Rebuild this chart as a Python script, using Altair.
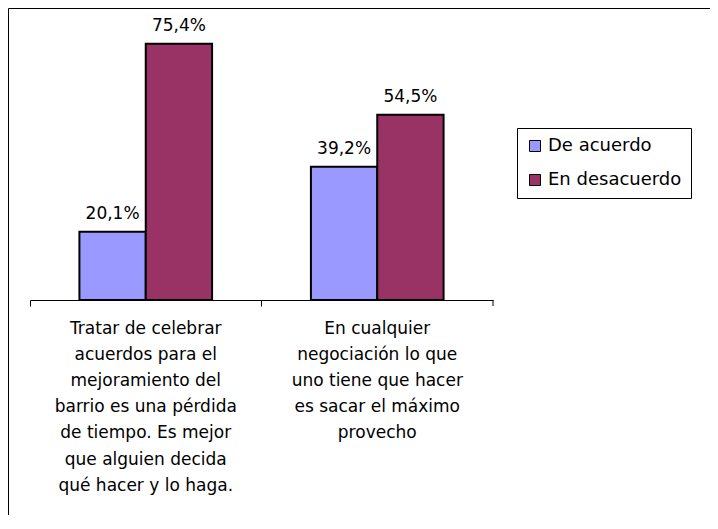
import altair as alt
import pandas as pd

# --- data ---
category_lines = [
    ["Tratar de celebrar", "acuerdos para el", "mejoramiento del",
     "barrio es una pérdida", "de tiempo. Es mejor", "que alguien decida",
     "qué hacer y lo haga."],
    ["En cualquier", "negociación lo que", "uno tiene que hacer",
     "es sacar el máximo", "provecho"],
]
categories = ["\n".join(l) for l in category_lines]
series = ["De acuerdo", "En desacuerdo"]
de_acuerdo = [20.1, 39.2]
en_desacuerdo = [75.4, 54.5]
colors = ["#9999FF", "#993366"]

rows = []
for i, c in enumerate(categories):
    rows.append({"cat": c, "serie": series[0], "val": de_acuerdo[i]})
    rows.append({"cat": c, "serie": series[1], "val": en_desacuerdo[i]})
df = pd.DataFrame(rows)
df["label"] = df["val"].map(lambda v: f"{v:.1f}".replace(".", ",") + "%")

W, H = 463, 272
FONT = "DejaVu Sans"

x = alt.X("cat:N", sort=categories, title=None,
          scale=alt.Scale(paddingInner=0, paddingOuter=0),
          axis=alt.Axis(labelExpr="split(datum.label, '\\n')", labelAngle=0,
                        labelAlign="center", labelBaseline="top",
                        labelLineHeight=26.2, labelFontSize=17, labelFont=FONT,
                        labelColor="black", labelPadding=14, labelLimit=400,
                        bandPosition=0, tickSize=6, tickColor="black",
                        domainColor="black", domainWidth=1, tickWidth=1,
                        grid=False))
xoff = alt.XOffset("serie:N", sort=series,
                   scale=alt.Scale(paddingInner=0, paddingOuter=0.745))
y = alt.Y("val:Q", scale=alt.Scale(domain=[0, 80]), axis=None)

bars = alt.Chart(df).mark_bar(stroke="black", strokeWidth=2).encode(
    x=x, xOffset=xoff, y=y,
    color=alt.Color("serie:N", sort=series,
                    scale=alt.Scale(domain=series, range=colors),
                    legend=alt.Legend(title=None, orient="none", legendX=487,
                                      legendY=100, strokeColor="black",
                                      fillColor="white", padding=9,
                                      symbolType="square", symbolSize=121,
                                      symbolStrokeColor="black",
                                      symbolStrokeWidth=1, symbolOpacity=1,
                                      labelFontSize=18, labelFont=FONT,
                                      labelColor="black", rowPadding=16,
                                      labelOffset=4, labelLimit=300)),
)

labels = alt.Chart(df).mark_text(baseline="bottom", dy=-9, fontSize=17,
                                 font=FONT, color="black").encode(
    x=alt.X("cat:N", sort=categories), xOffset=xoff, y=y, text="label:N",
)

last_tick = alt.Chart(pd.DataFrame({"cat": [categories[-1]]})).mark_rule(
    color="black", strokeWidth=1).encode(
    x=alt.X("cat:N", sort=categories, bandPosition=1),
    y=alt.value(H), y2=alt.value(H + 6),
)

frame = alt.Chart(pd.DataFrame({"a": [0]})).mark_rect(
    filled=False, stroke="black", strokeWidth=1).encode(
    x=alt.value(-21.5), x2=alt.value(720), y=alt.value(-19.5), y2=alt.value(540),
)

chart = alt.layer(frame, bars, labels, last_tick).properties(
    width=W, height=H,
    autosize=alt.AutoSizeParams(type="none"),
    padding={"left": 22, "top": 20, "right": 217, "bottom": 215},
).configure(background="white").configure_view(stroke="transparent", strokeWidth=0)

chart.save("out.html", embed_options={"renderer": "svg", "actions": False})
